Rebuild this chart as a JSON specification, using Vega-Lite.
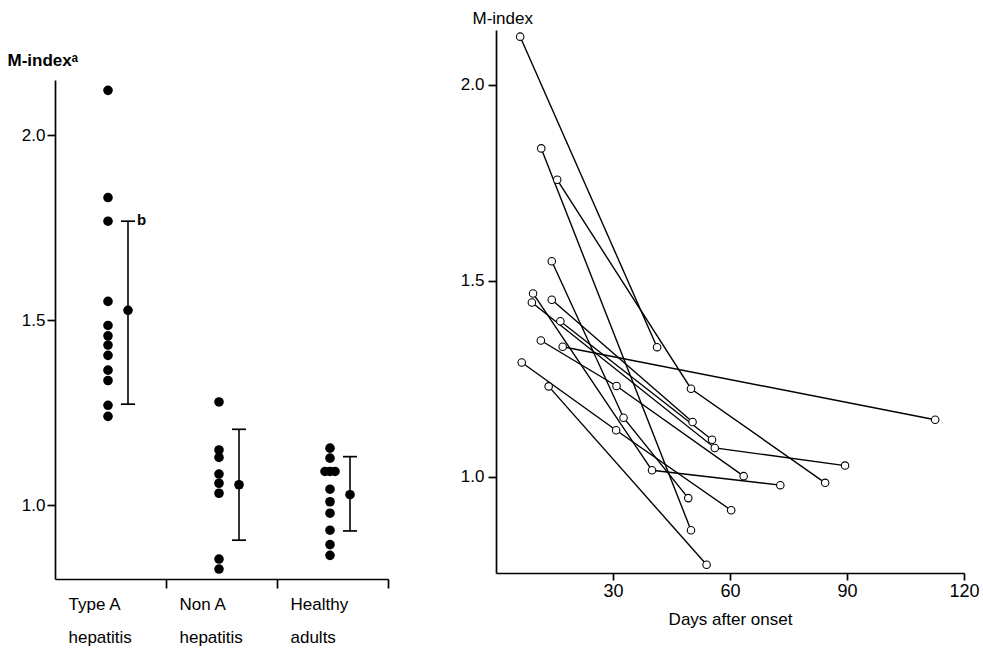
{
  "$schema": "https://vega.github.io/schema/vega-lite/v6.json",
  "background": "white",
  "padding": {"left": 7, "top": 9, "right": 5, "bottom": 5},
  "bounds": "flush",
  "spacing": 108,
  "config": {
    "view": {"stroke": null},
    "font": "Liberation Sans",
    "axis": {
      "grid": false,
      "domainColor": "black",
      "tickColor": "black",
      "labelColor": "black",
      "titleColor": "black",
      "domainWidth": 1.7,
      "tickWidth": 1.7,
      "labelFont": "Liberation Sans",
      "titleFont": "Liberation Sans"
    }
  },
  "datasets": {
    "dots": [
      {"group": "Type A hepatitis", "m": 2.122, "col": 0},
      {"group": "Type A hepatitis", "m": 1.832, "col": 0},
      {"group": "Type A hepatitis", "m": 1.768, "col": 0},
      {"group": "Type A hepatitis", "m": 1.551, "col": 0},
      {"group": "Type A hepatitis", "m": 1.486, "col": 0},
      {"group": "Type A hepatitis", "m": 1.458, "col": 0},
      {"group": "Type A hepatitis", "m": 1.433, "col": 0},
      {"group": "Type A hepatitis", "m": 1.405, "col": 0},
      {"group": "Type A hepatitis", "m": 1.365, "col": 0},
      {"group": "Type A hepatitis", "m": 1.337, "col": 0},
      {"group": "Type A hepatitis", "m": 1.270, "col": 0},
      {"group": "Type A hepatitis", "m": 1.240, "col": 0},
      {"group": "Non A hepatitis", "m": 1.279, "col": 0},
      {"group": "Non A hepatitis", "m": 1.149, "col": 0},
      {"group": "Non A hepatitis", "m": 1.129, "col": 0},
      {"group": "Non A hepatitis", "m": 1.084, "col": 0},
      {"group": "Non A hepatitis", "m": 1.059, "col": 0},
      {"group": "Non A hepatitis", "m": 1.032, "col": 0},
      {"group": "Non A hepatitis", "m": 0.854, "col": 0},
      {"group": "Non A hepatitis", "m": 0.827, "col": 0},
      {"group": "Healthy adults", "m": 1.154, "col": 0},
      {"group": "Healthy adults", "m": 1.127, "col": 0},
      {"group": "Healthy adults", "m": 1.091, "col": -1},
      {"group": "Healthy adults", "m": 1.091, "col": 0},
      {"group": "Healthy adults", "m": 1.091, "col": 1},
      {"group": "Healthy adults", "m": 1.043, "col": 0},
      {"group": "Healthy adults", "m": 1.009, "col": 0},
      {"group": "Healthy adults", "m": 0.978, "col": 0},
      {"group": "Healthy adults", "m": 0.932, "col": 0},
      {"group": "Healthy adults", "m": 0.893, "col": 0},
      {"group": "Healthy adults", "m": 0.864, "col": 0}
    ],
    "summary": [
      {"group": "Type A hepatitis", "mean": 1.527, "lo": 1.273, "hi": 1.768, "note": "b"},
      {"group": "Non A hepatitis", "mean": 1.055, "lo": 0.905, "hi": 1.205, "note": ""},
      {"group": "Healthy adults", "mean": 1.028, "lo": 0.930, "hi": 1.131, "note": ""}
    ],
    "followup": [
      {"subject": 1, "day": 6.2, "m": 2.123},
      {"subject": 1, "day": 41.3, "m": 1.331},
      {"subject": 2, "day": 11.6, "m": 1.838},
      {"subject": 2, "day": 50.0, "m": 0.864},
      {"subject": 3, "day": 15.7, "m": 1.758},
      {"subject": 3, "day": 50.0, "m": 1.225},
      {"subject": 3, "day": 84.4, "m": 0.985},
      {"subject": 4, "day": 14.3, "m": 1.550},
      {"subject": 4, "day": 32.7, "m": 1.151},
      {"subject": 4, "day": 49.3, "m": 0.946},
      {"subject": 5, "day": 9.5, "m": 1.468},
      {"subject": 5, "day": 40.0, "m": 1.017},
      {"subject": 5, "day": 72.9, "m": 0.979},
      {"subject": 6, "day": 9.2, "m": 1.445},
      {"subject": 6, "day": 56.1, "m": 1.074},
      {"subject": 6, "day": 89.5, "m": 1.029},
      {"subject": 7, "day": 14.3, "m": 1.452},
      {"subject": 7, "day": 50.4, "m": 1.140},
      {"subject": 8, "day": 16.5, "m": 1.397},
      {"subject": 8, "day": 55.4, "m": 1.095},
      {"subject": 9, "day": 11.5, "m": 1.348},
      {"subject": 9, "day": 30.9, "m": 1.232},
      {"subject": 9, "day": 63.5, "m": 1.002},
      {"subject": 10, "day": 17.1, "m": 1.332},
      {"subject": 10, "day": 112.6, "m": 1.146},
      {"subject": 11, "day": 6.6, "m": 1.292},
      {"subject": 11, "day": 30.8, "m": 1.119},
      {"subject": 11, "day": 60.3, "m": 0.915},
      {"subject": 12, "day": 13.5, "m": 1.231},
      {"subject": 12, "day": 54.0, "m": 0.776}
    ]
  },
  "hconcat": [
    {
      "width": 333,
      "height": 549,
      "encoding": {
        "x": {
          "field": "group", "type": "nominal",
          "scale": {"domain": ["Type A hepatitis", "Non A hepatitis", "Healthy adults"], "paddingInner": 0, "paddingOuter": 0},
          "axis": {
            "orient": "bottom", "title": null, "bandPosition": 1, "tickSize": 9,
            "labelAngle": 0, "labelAlign": "left", "labelOffset": -42, "labelBaseline": "top",
            "labelPadding": 8, "labelFontSize": 17, "labelLineHeight": 33,
            "labelOverlap": false, "labelFlush": false, "labelBound": false,
            "labelExpr": "datum.value == 'Type A hepatitis' ? ['Type A', '\u00a0hepatitis'] : datum.value == 'Non A hepatitis' ? ['Non A', '\u00a0\u00a0hepatitis'] : ['Healthy', '\u00a0\u00a0adults']"
          }
        }
      },
      "layer": [
        {
          "data": {"name": "dots"},
          "mark": {"type": "point", "shape": "circle", "filled": true, "color": "black", "opacity": 1, "size": 92},
          "encoding": {
            "xOffset": {"field": "col", "type": "quantitative", "scale": {"domain": [-10.6, 11.6], "range": [0, 111]}},
            "y": {
              "field": "m", "type": "quantitative",
              "scale": {"domain": [0.8, 2.15], "range": [549, 50], "nice": false, "zero": false},
              "axis": {
                "orient": "left", "values": [1, 1.5, 2], "format": ".1f", "tickSize": 8,
                "labelPadding": 2, "labelFontSize": 17,
                "title": "M-indexᵃ", "titleAngle": 0, "titleAlign": "left", "titleBaseline": "middle",
                "titleX": -48, "titleY": 30, "titleFontSize": 17, "titleFontWeight": "bold"
              }
            }
          }
        },
        {
          "data": {"name": "summary"},
          "mark": {"type": "rule", "color": "black", "strokeWidth": 1.6},
          "encoding": {
            "xOffset": {"datum": 4, "type": "quantitative"},
            "y": {"field": "lo", "type": "quantitative"},
            "y2": {"field": "hi"}
          }
        },
        {
          "data": {"name": "summary"},
          "mark": {"type": "point", "shape": "circle", "filled": true, "color": "black", "opacity": 1, "size": 92},
          "encoding": {
            "xOffset": {"datum": 4, "type": "quantitative"},
            "y": {"field": "mean", "type": "quantitative"}
          }
        },
        {
          "data": {"name": "summary"},
          "mark": {"type": "point", "shape": "M-1,0L1,0", "filled": false, "stroke": "black", "strokeWidth": 1.7, "opacity": 1, "size": 196},
          "encoding": {
            "xOffset": {"datum": 4, "type": "quantitative"},
            "y": {"field": "lo", "type": "quantitative"}
          }
        },
        {
          "data": {"name": "summary"},
          "mark": {"type": "point", "shape": "M-1,0L1,0", "filled": false, "stroke": "black", "strokeWidth": 1.7, "opacity": 1, "size": 196},
          "encoding": {
            "xOffset": {"datum": 4, "type": "quantitative"},
            "y": {"field": "hi", "type": "quantitative"}
          }
        },
        {
          "data": {"name": "summary"},
          "mark": {"type": "text", "align": "left", "baseline": "middle", "dx": 9, "dy": -1, "fontSize": 15, "fontWeight": "bold", "color": "black"},
          "encoding": {
            "xOffset": {"datum": 4, "type": "quantitative"},
            "y": {"field": "hi", "type": "quantitative"},
            "text": {"field": "note"}
          }
        }
      ]
    },
    {
      "width": 468,
      "height": 543,
      "data": {"name": "followup"},
      "encoding": {
        "x": {
          "field": "day", "type": "quantitative",
          "scale": {"domain": [0, 120], "nice": false, "zero": false},
          "axis": {
            "orient": "bottom", "values": [30, 60, 90, 120], "tickSize": 7,
            "labelPadding": 2, "labelFontSize": 18, "labelFlush": false,
            "title": "Days after onset", "titleFontSize": 17, "titleFontWeight": "normal", "titlePadding": 11
          }
        },
        "y": {
          "field": "m", "type": "quantitative",
          "scale": {"domain": [0.755, 2.14], "nice": false, "zero": false},
          "axis": {
            "orient": "left", "values": [1, 1.5, 2], "format": ".1f", "tickSize": 8,
            "labelPadding": 4, "labelFontSize": 17,
            "title": "M-index", "titleAngle": 0, "titleAlign": "left", "titleBaseline": "middle",
            "titleX": -24, "titleY": -12, "titleFontSize": 17, "titleFontWeight": "normal"
          }
        }
      },
      "layer": [
        {
          "mark": {"type": "line", "color": "black", "strokeWidth": 1.4},
          "encoding": {"detail": {"field": "subject", "type": "nominal"}}
        },
        {
          "mark": {"type": "point", "shape": "circle", "filled": true, "fill": "white", "stroke": "black", "strokeWidth": 1.1, "opacity": 1, "size": 56},
          "encoding": {}
        }
      ]
    }
  ]
}
